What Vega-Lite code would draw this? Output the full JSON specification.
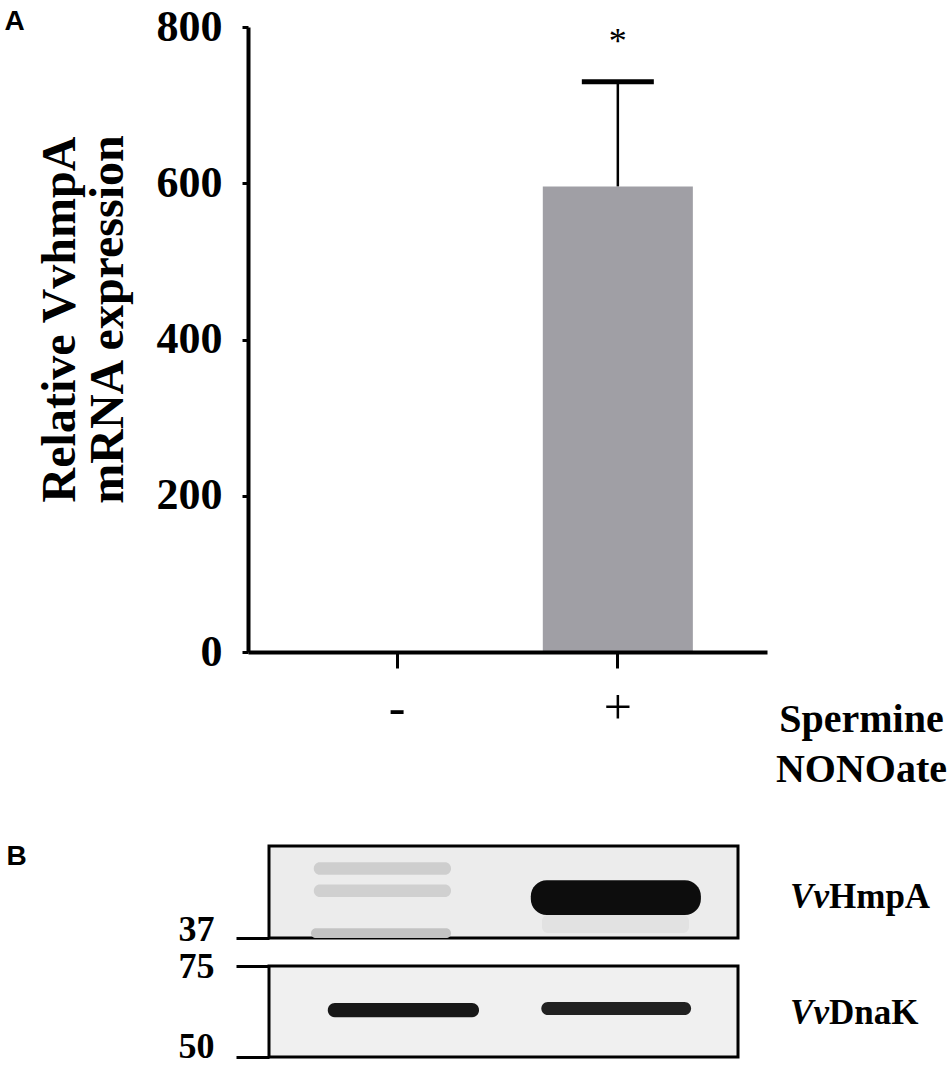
{
  "$schema": "https://vega.github.io/schema/vega-lite/v6.json",
  "background": "white",
  "padding": {"left": 4, "top": 5, "right": 0, "bottom": 0},
  "config": {
    "view": {"stroke": null},
    "axis": {"grid": false, "domainColor": "black", "tickColor": "black", "labelColor": "black", "titleColor": "black", "labelFont": "Liberation Serif", "titleFont": "Liberation Serif"}
  },
  "datasets": {
    "expression": [
      {"treatment": "-", "relative_expression": 1, "upper": 1, "significance": ""},
      {"treatment": "+", "relative_expression": 596, "upper": 730, "significance": "*"}
    ],
    "membranes": [
      {"blot": "HmpA", "left": 3, "right": 70, "low_kDa": 37, "high_kDa": 50},
      {"blot": "DnaK", "left": 3, "right": 70, "low_kDa": 50, "high_kDa": 75}
    ],
    "bands": [
      {"blot": "HmpA", "lane": "+", "x_start": 40.4, "x_end": 64.7, "kDa_low": 39.9, "kDa_high": 44.7, "intensity": 1.0},
      {"blot": "HmpA", "lane": "-", "x_start": 9.4, "x_end": 29.0, "kDa_low": 45.5, "kDa_high": 47.4, "intensity": 0.14},
      {"blot": "HmpA", "lane": "-", "x_start": 9.4, "x_end": 29.0, "kDa_low": 42.3, "kDa_high": 44.1, "intensity": 0.13},
      {"blot": "HmpA", "lane": "-", "x_start": 9.0, "x_end": 29.0, "kDa_low": 37.0, "kDa_high": 38.2, "intensity": 0.18},
      {"blot": "HmpA", "lane": "+", "x_start": 42.0, "x_end": 63.0, "kDa_low": 37.6, "kDa_high": 39.9, "intensity": 0.06},
      {"blot": "DnaK", "lane": "-", "x_start": 11.4, "x_end": 33.0, "kDa_low": 59.7, "kDa_high": 63.6, "intensity": 0.95},
      {"blot": "DnaK", "lane": "+", "x_start": 41.9, "x_end": 63.3, "kDa_low": 60.3, "kDa_high": 63.9, "intensity": 0.9}
    ],
    "proteins": [
      {"blot": "HmpA", "prefix": "Vv", "name": "HmpA", "kDa": 42.3},
      {"blot": "DnaK", "prefix": "Vv", "name": "DnaK", "kDa": 60.8}
    ]
  },
  "bounds": "flush",
  "spacing": 28,
  "resolve": {"scale": {"x": "independent", "y": "independent", "color": "shared"}},
  "vconcat": [
    {
      "width": 519,
      "height": 625,
      "title": {"text": "A", "orient": "left", "anchor": "end", "angle": 0, "font": "Liberation Sans", "fontSize": 28, "fontWeight": "bold", "color": "black", "baseline": "middle", "align": "right", "offset": -9, "dy": 17},
      "data": {"name": "expression"},
      "encoding": {
        "x": {
          "field": "treatment", "type": "nominal", "sort": ["-", "+"],
          "scale": {"paddingInner": 0.32, "paddingOuter": 0.336},
          "axis": {
            "title": ["Spermine", "NONOate"], "titleFontSize": 40, "titleFontWeight": "bold",
            "titleAlign": "center", "titleBaseline": "alphabetic", "titleX": 613, "titleY": 79, "titleLineHeight": 50,
            "labelAngle": 0, "labelFontSize": 50, "labelFontWeight": "normal", "labelPadding": 15,
            "tickSize": 16, "tickWidth": 3, "domainWidth": 4, "zindex": 1
          }
        }
      },
      "layer": [
        {
          "mark": {"type": "bar", "color": "#a09fa5"},
          "encoding": {
            "y": {
              "field": "relative_expression", "type": "quantitative",
              "scale": {"domain": [0, 800], "nice": false},
              "axis": {
                "title": ["Relative VvhmpA", "mRNA expression"], "titleFontSize": 48, "titleFontWeight": "bold",
                "titleLineHeight": 48, "titlePadding": 24, "titleY": 292,
                "values": [0, 200, 400, 600, 800], "labelFontSize": 44, "labelFontWeight": "bold",
                "labelPadding": 20, "tickSize": 6, "tickWidth": 3, "domainWidth": 4, "zindex": 1
              }
            }
          }
        },
        {
          "transform": [{"filter": "datum.upper > datum.relative_expression"}],
          "mark": {"type": "rule", "color": "black", "strokeWidth": 2.5},
          "encoding": {
            "y": {"field": "relative_expression", "type": "quantitative"},
            "y2": {"field": "upper"}
          }
        },
        {
          "transform": [{"filter": "datum.upper > datum.relative_expression"}],
          "mark": {"type": "tick", "color": "black", "opacity": 1, "thickness": 5, "size": 72},
          "encoding": {
            "y": {"field": "upper", "type": "quantitative"}
          }
        },
        {
          "transform": [{"filter": "datum.significance != ''"}],
          "mark": {"type": "text", "font": "Liberation Serif", "fontSize": 36, "baseline": "alphabetic", "dy": -29, "color": "black"},
          "encoding": {
            "y": {"field": "upper", "type": "quantitative"},
            "text": {"field": "significance"}
          }
        }
      ]
    },
    {
      "width": 700,
      "height": 258,
      "title": {"text": "B", "orient": "left", "anchor": "end", "angle": 0, "font": "Liberation Sans", "fontSize": 28, "fontWeight": "bold", "color": "black", "baseline": "middle", "align": "right", "offset": 131, "dy": 177},
      "layer": [
        {
          "data": {"name": "membranes"},
          "transform": [{"filter": "datum.blot == 'HmpA'"}],
          "mark": {"type": "rect", "fill": "#ececec", "stroke": "black", "strokeWidth": 3},
          "encoding": {
            "x": {"field": "left", "type": "quantitative", "scale": {"domain": [0, 100], "nice": false}, "axis": null},
            "x2": {"field": "right"},
            "y": {
              "field": "low_kDa", "type": "quantitative",
              "scale": {"type": "log", "domain": [37, 86.1], "nice": false},
              "axis": {
                "title": null, "values": [37], "domain": false, "offset": -21,
                "tickSize": 33, "tickWidth": 3, "labelPadding": 22,
                "labelFontSize": 36, "labelFontWeight": "bold", "labelBaseline": "alphabetic", "labelOffset": 2
              }
            },
            "y2": {"field": "high_kDa"}
          }
        },
        {
          "data": {"name": "bands"},
          "transform": [{"filter": "datum.blot == 'HmpA' && datum.intensity < 0.5"}],
          "mark": {"type": "rect", "cornerRadius": 6},
          "encoding": {
            "x": {"field": "x_start", "type": "quantitative"},
            "x2": {"field": "x_end"},
            "y": {"field": "kDa_low", "type": "quantitative"},
            "y2": {"field": "kDa_high"},
            "color": {"field": "intensity", "type": "quantitative", "scale": {"domain": [0, 1], "range": ["#f2f2f2", "#0d0d0d"]}, "legend": null}
          }
        },
        {
          "data": {"name": "bands"},
          "transform": [{"filter": "datum.blot == 'HmpA' && datum.intensity >= 0.5"}],
          "mark": {"type": "rect", "cornerRadius": 16},
          "encoding": {
            "x": {"field": "x_start", "type": "quantitative"},
            "x2": {"field": "x_end"},
            "y": {"field": "kDa_low", "type": "quantitative"},
            "y2": {"field": "kDa_high"},
            "color": {"field": "intensity", "type": "quantitative", "legend": null}
          }
        },
        {
          "data": {"name": "proteins"},
          "transform": [{"filter": "datum.blot == 'HmpA'"}],
          "mark": {"type": "text", "align": "right", "baseline": "middle", "font": "Liberation Serif", "fontSize": 35, "fontWeight": "bold", "fontStyle": "italic", "color": "black"},
          "encoding": {
            "x": {"datum": 83, "type": "quantitative"},
            "y": {"field": "kDa", "type": "quantitative"},
            "text": {"field": "prefix"}
          }
        },
        {
          "data": {"name": "proteins"},
          "transform": [{"filter": "datum.blot == 'HmpA'"}],
          "mark": {"type": "text", "align": "left", "baseline": "middle", "font": "Liberation Serif", "fontSize": 35, "fontWeight": "bold", "color": "black"},
          "encoding": {
            "x": {"datum": 83, "type": "quantitative"},
            "y": {"field": "kDa", "type": "quantitative"},
            "text": {"field": "name"}
          }
        }
      ]
    },
    {
      "width": 700,
      "height": 91,
      "layer": [
        {
          "data": {"name": "membranes"},
          "transform": [{"filter": "datum.blot == 'DnaK'"}],
          "mark": {"type": "rect", "fill": "#f0f0f0", "stroke": "black", "strokeWidth": 3},
          "encoding": {
            "x": {"field": "left", "type": "quantitative", "scale": {"domain": [0, 100], "nice": false}, "axis": null},
            "x2": {"field": "right"},
            "y": {
              "field": "low_kDa", "type": "quantitative",
              "scale": {"type": "log", "domain": [50, 75], "nice": false},
              "axis": {
                "title": null, "values": [75, 50], "domain": false, "offset": -21,
                "tickSize": 33, "tickWidth": 3, "labelPadding": 22,
                "labelFontSize": 36, "labelFontWeight": "bold",
                "labelBaseline": {"condition": {"test": "datum.value == 50", "value": "alphabetic"}, "value": "middle"}
              }
            },
            "y2": {"field": "high_kDa"}
          }
        },
        {
          "data": {"name": "bands"},
          "transform": [{"filter": "datum.blot == 'DnaK'"}],
          "mark": {"type": "rect", "cornerRadius": 7},
          "encoding": {
            "x": {"field": "x_start", "type": "quantitative"},
            "x2": {"field": "x_end"},
            "y": {"field": "kDa_low", "type": "quantitative"},
            "y2": {"field": "kDa_high"},
            "color": {"field": "intensity", "type": "quantitative", "legend": null}
          }
        },
        {
          "data": {"name": "proteins"},
          "transform": [{"filter": "datum.blot == 'DnaK'"}],
          "mark": {"type": "text", "align": "right", "baseline": "middle", "font": "Liberation Serif", "fontSize": 35, "fontWeight": "bold", "fontStyle": "italic", "color": "black"},
          "encoding": {
            "x": {"datum": 83, "type": "quantitative"},
            "y": {"field": "kDa", "type": "quantitative"},
            "text": {"field": "prefix"}
          }
        },
        {
          "data": {"name": "proteins"},
          "transform": [{"filter": "datum.blot == 'DnaK'"}],
          "mark": {"type": "text", "align": "left", "baseline": "middle", "font": "Liberation Serif", "fontSize": 35, "fontWeight": "bold", "color": "black"},
          "encoding": {
            "x": {"datum": 83, "type": "quantitative"},
            "y": {"field": "kDa", "type": "quantitative"},
            "text": {"field": "name"}
          }
        }
      ]
    }
  ]
}
